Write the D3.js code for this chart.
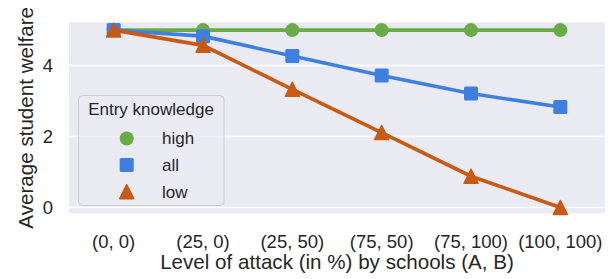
<!DOCTYPE html>
<html>
<head>
<meta charset="utf-8">
<script src="https://cdn.jsdelivr.net/npm/d3@7"></script>
<style>
  body { margin: 0; background: #fff; }
  text { font-family: "Liberation Sans", Arial, sans-serif; fill: #262626; }
</style>
</head>
<body>
<div id="chart"></div>
<script>
var width = 615,
    height = 279;

var categories = ['(0, 0)', '(25, 0)', '(25, 50)', '(75, 50)', '(75, 100)', '(100, 100)'];
var yTicks = [0, 2, 4];

// welfare per entry knowledge group
var high = [5, 5, 5, 5, 5, 5];
var all = [5, 4.83, 4.27, 3.72, 3.21, 2.83];
var low = [5, 4.57, 3.33, 2.11, 0.88, 0];

var series = [
    {name: 'high', values: high, color: '#6aab46', shape: 'circle'},
    {name: 'all', values: all, color: '#3f7fe0', shape: 'square'},
    {name: 'low', values: low, color: '#c85a14', shape: 'triangle'}
];

var plot = {left: 69, right: 605, top: 22.3, bottom: 213.3};

var svg = d3.select('#chart')
    .append('svg')
    .attr('width', width)
    .attr('height', height);

var x = d3.scalePoint()
    .domain(categories)
    .range([plot.left, plot.right])
    .padding(0.5);

var y = d3.scaleLinear()
    .domain([-0.165, 5.22])
    .range([plot.bottom, plot.top]);

// background
svg.append('rect')
    .attr('x', plot.left)
    .attr('y', plot.top)
    .attr('width', plot.right - plot.left)
    .attr('height', plot.bottom - plot.top)
    .style('fill', '#eaeaf2');

// grid
svg.selectAll('line.grid')
    .data(yTicks)
    .enter().append('line')
    .attr('class', 'grid')
    .attr('x1', plot.left)
    .attr('x2', plot.right)
    .attr('y1', function(d){ return y(d); })
    .attr('y2', function(d){ return y(d); })
    .style('stroke', '#fff')
    .style('stroke-width', 1.6);

// y tick labels
svg.selectAll('text.ytick')
    .data(yTicks)
    .enter().append('text')
    .attr('class', 'ytick')
    .attr('x', 53)
    .attr('y', function(d){ return y(d); })
    .attr('dy', '0.35em')
    .attr('text-anchor', 'end')
    .style('font-size', '18.5px')
    .text(function(d){ return d; });

// x tick labels
svg.selectAll('text.xtick')
    .data(categories)
    .enter().append('text')
    .attr('class', 'xtick')
    .attr('x', function(d){ return x(d); })
    .attr('y', 248)
    .attr('text-anchor', 'middle')
    .style('font-size', '18.5px')
    .text(function(d){ return d; });

svg.append('text')
    .attr('x', (plot.left + plot.right) / 2)
    .attr('y', 269)
    .attr('text-anchor', 'middle')
    .style('font-size', '20.6px')
    .text('Level of attack (in %) by schools (A, B)');

svg.append('text')
    .attr('transform', 'translate(33,' + (plot.top + plot.bottom) / 2 + ') rotate(-90)')
    .attr('text-anchor', 'middle')
    .style('font-size', '20.6px')
    .text('Average student welfare');

function marker(g, shape, color, size){
    if(shape == 'circle'){
        g.append('circle').attr('r', size / 2).style('fill', color);
    } else if(shape == 'square'){
        g.append('rect')
            .attr('x', -size / 2).attr('y', -size / 2)
            .attr('width', size).attr('height', size)
            .attr('rx', 1.5)
            .style('fill', color);
    } else {
        var h = size / 2;
        g.append('path')
            .attr('d', 'M0,' + (-h) + 'L' + h + ',' + h + 'L' + (-h) + ',' + h + 'Z')
            .style('fill', color)
            .style('stroke', color)
            .style('stroke-width', 1.5)
            .style('stroke-linejoin', 'round');
    }
}

var line = d3.line()
    .x(function(d, i){ return x(categories[i]); })
    .y(function(d){ return y(d); });

series.forEach(function(s){
    var g = svg.append('g');
    g.append('path')
        .attr('d', line(s.values))
        .style('fill', 'none')
        .style('stroke', s.color)
        .style('stroke-width', 3.6);
    s.values.forEach(function(v, i){
        var m = g.append('g')
            .attr('transform', 'translate(' + x(categories[i]) + ',' + y(v) + ')');
        marker(m, s.shape, s.color, 14);
    });
});

// legend
var legend = svg.append('g');
legend.append('rect')
    .attr('x', 78.5).attr('y', 95.5)
    .attr('width', 145.5).attr('height', 110)
    .attr('rx', 4)
    .style('fill', '#eaeaf2')
    .style('fill-opacity', 0.8)
    .style('stroke', '#cccccc')
    .style('stroke-width', 1);

legend.append('text')
    .attr('x', 151)
    .attr('y', 115)
    .attr('text-anchor', 'middle')
    .style('font-size', '17px')
    .text('Entry knowledge');

series.forEach(function(s, i){
    var yy = 138.5 + i * 26.6;
    var m = legend.append('g')
        .attr('transform', 'translate(126.7,' + yy + ')');
    marker(m, s.shape, s.color, 14);
    legend.append('text')
        .attr('x', 162)
        .attr('y', yy)
        .attr('dy', '0.35em')
        .style('font-size', '17px')
        .text(s.name);
});
</script>
</body>
</html>
